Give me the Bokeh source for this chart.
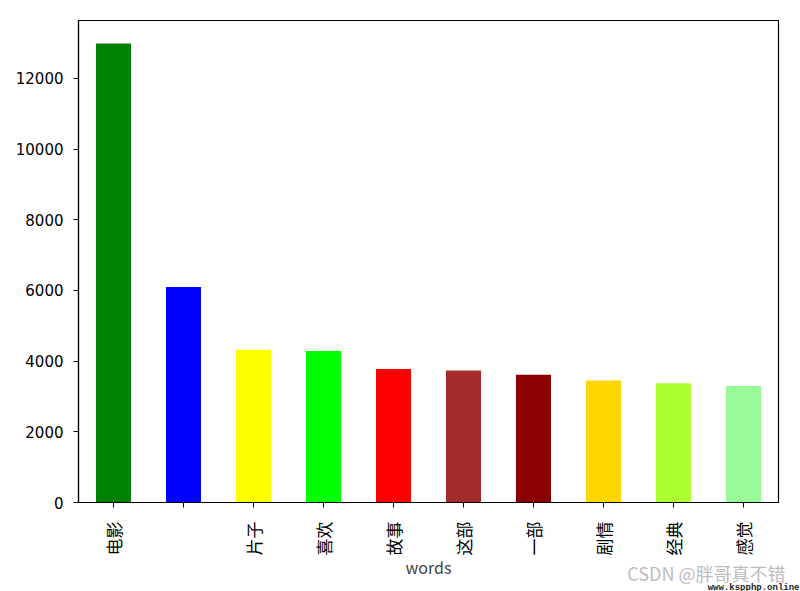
import math
from bokeh.plotting import figure
from bokeh.models import ColumnDataSource, FactorRange, Range1d, FixedTicker, Title
from bokeh.embed import file_html
from bokeh.resources import INLINE

words = ["电影", " ", "片子", "喜欢", "故事", "这部", "一部", "剧情", "经典", "感觉"]
counts = [12990, 6095, 4320, 4285, 3775, 3735, 3615, 3455, 3375, 3300]
colors = ["#008000", "#0000ff", "#ffff00", "#00ff00", "#ff0000",
          "#a52a2a", "#8b0000", "#ffd700", "#adff2f", "#98fb98"]
yticks = [0, 2000, 4000, 6000, 8000, 10000, 12000]

FONT = "Noto Sans CJK SC"

src = ColumnDataSource(dict(words=words, counts=counts, colors=colors))

p = figure(width=800, height=591, output_backend="svg", toolbar_location=None,
           x_range=FactorRange(factors=words, range_padding=0),
           y_range=Range1d(0, 13640),
           min_border_left=78, min_border_right=22, min_border_top=20, min_border_bottom=89)

p.vbar(x="words", top="counts", width=0.5, fill_color="colors", line_color=None, source=src)

p.xgrid.visible = False
p.ygrid.visible = False
p.outline_line_color = "black"
p.outline_line_width = 1.2
p.background_fill_color = "white"
p.border_fill_color = "white"

for ax in (p.xaxis[0], p.yaxis[0]):
    ax.axis_line_color = "black"
    ax.axis_line_width = 1.2
    ax.major_tick_in = 0
    ax.major_tick_out = 5
    ax.minor_tick_line_color = None
    ax.major_label_text_color = "black"
    ax.major_tick_line_color = "black"

p.yaxis[0].ticker = FixedTicker(ticks=yticks)
p.yaxis[0].major_label_text_font = "DejaVu Sans"
p.yaxis[0].major_label_text_font_size = "15px"
p.yaxis[0].major_label_standoff = 10
p.xaxis[0].major_label_text_font = FONT
p.xaxis[0].major_label_text_font_size = "17px"
p.xaxis[0].major_label_orientation = math.pi / 2
p.xaxis[0].major_label_standoff = 14
p.xaxis[0].axis_label = "words"
p.xaxis[0].axis_label_text_font = FONT
p.xaxis[0].axis_label_text_font_style = "normal"
p.xaxis[0].axis_label_text_font_size = "16px"
p.xaxis[0].axis_label_standoff = -3

wm = Title(text="CSDN @胖哥真不错", align="right", vertical_align="top", text_font=FONT,
           text_font_size="18px", text_font_style="normal", text_color="#bdbdbd",
           offset=-7, standoff=-46)
p.add_layout(wm, "below")
wm2 = Title(text="www.kspphp.online", align="right", vertical_align="bottom",
            text_font="Liberation Mono", text_font_size="9px", text_font_style="bold",
            text_color="#222222", offset=-21, standoff=-20)
p.add_layout(wm2, "below")

open("out.html", "w").write(file_html(p, INLINE))
